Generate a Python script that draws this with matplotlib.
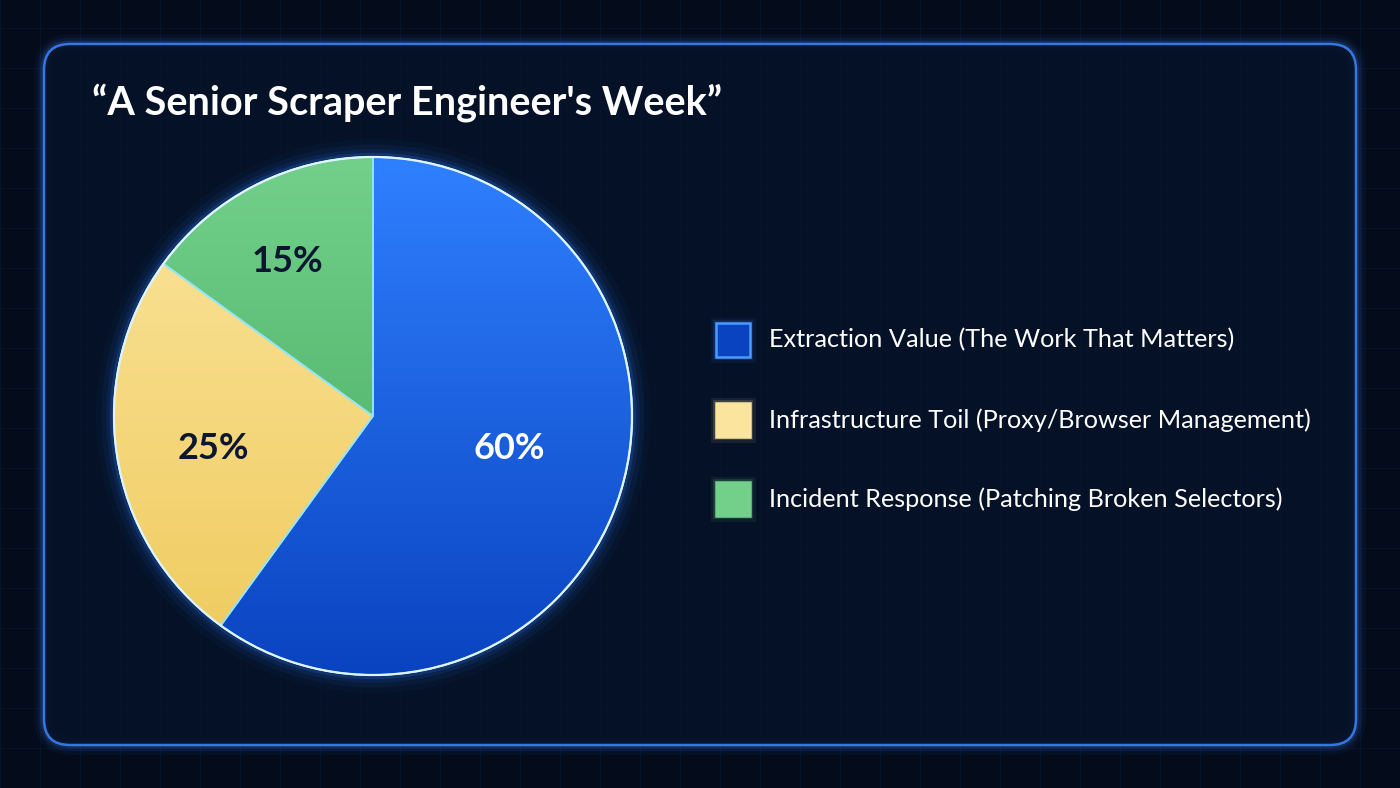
import numpy as np
import matplotlib
matplotlib.use('Agg')
import matplotlib.pyplot as plt
from matplotlib.patches import FancyBboxPatch, Rectangle, Circle, Wedge
from matplotlib.colors import LinearSegmentedColormap

#------------------------------------------------------------------------------
# DATA
#------------------------------------------------------------------------------
title = '\u201cA Senior Scraper Engineer\'s Week\u201d'
labels = ['Extraction Value (The Work That Matters)',
          'Infrastructure Toil (Proxy/Browser Management)',
          'Incident Response (Patching Broken Selectors)']
shares = [60, 25, 15]
colors_top = ['#2f80ff', '#fbe59e', '#72d08a']
colors_bot = ['#0a43c0', '#efca5c', '#42a65c']
pct_colors = ['white', '#0b1630', '#0b1630']

#------------------------------------------------------------------------------
# SETTINGS
#------------------------------------------------------------------------------
W, H = 1400, 788
bg = '#040b1b'
panel_fill = '#061329'
edge_blue = '#3f86ff'
font = ['Lato', 'DejaVu Sans']

fig = plt.figure(figsize=(W/100, H/100), dpi=100, facecolor=bg)
ax = fig.add_axes([0, 0, 1, 1])
ax.set_xlim(0, W)
ax.set_ylim(0, H)
ax.set_aspect('equal')
ax.axis('off')

# faint background grid
for gx in np.arange(0, W, 40):
    ax.axvline(gx, color='#1a3a6a', lw=0.5, alpha=0.25, zorder=0)
for gy in np.arange(0, H, 40):
    ax.axhline(gy, color='#1a3a6a', lw=0.5, alpha=0.25, zorder=0)

# panel with glowing border
px0, py0, px1, py1 = 44, 788-745, 1356, 788-44
for lw, a in [(14, 0.05), (9, 0.08), (5, 0.15)]:
    ax.add_patch(FancyBboxPatch((px0, py0), px1-px0, py1-py0,
                                boxstyle='round,pad=0,rounding_size=26',
                                fc='none', ec=edge_blue, lw=lw, alpha=a, zorder=1))
ax.add_patch(FancyBboxPatch((px0, py0), px1-px0, py1-py0,
                            boxstyle='round,pad=0,rounding_size=26',
                            fc=panel_fill, ec=edge_blue, lw=1.8, alpha=0.85, zorder=1))

# title
ax.text(92, 788-103, title, color='white', fontsize=28.5, fontweight='bold',
        family=font, ha='left', va='center', zorder=5)

#------------------------------------------------------------------------------
# PIE
#------------------------------------------------------------------------------
cx, cy, r = 373, 788-416, 259

# glow around pie
for lw, a in [(26, 0.04), (18, 0.06), (11, 0.10), (6, 0.18)]:
    ax.add_patch(Circle((cx, cy), r, fc='none', ec='#2f7dff', lw=lw, alpha=a, zorder=2))

wedges, texts, autotexts = ax.pie(shares, startangle=90, counterclock=False,
                                  center=(cx, cy), radius=r, colors=colors_top,
                                  autopct='%d%%', pctdistance=0.6,
                                  wedgeprops=dict(ec='#8fe6ff', lw=1.2),
                                  textprops=dict(fontsize=26, fontweight='bold', family=font))
ax.set_xlim(0, W)
ax.set_ylim(0, H)

# label placement inside the wedges (pixel positions of the label centres)
pct_pos = [(509, 448), (213, 448), (287, 261)]
for i, w in enumerate(wedges):
    w.set_zorder(3)
    cmap = LinearSegmentedColormap.from_list('g%d' % i, [colors_bot[i], colors_top[i]])
    grad = np.linspace(0, 1, 256).reshape(-1, 1)
    im = ax.imshow(grad, cmap=cmap, origin='lower', aspect='auto',
                   extent=(cx-r, cx+r, cy-r, cy+r), zorder=3.1)
    im.set_clip_path(w)
    autotexts[i].set_color(pct_colors[i])
    autotexts[i].set_position((pct_pos[i][0], H - pct_pos[i][1]))
    autotexts[i].set_zorder(6)

# boundary lines and rim on top of the gradients
for w in wedges:
    ax.add_patch(Wedge((cx, cy), r, w.theta1, w.theta2,
                       fc='none', ec='#8fe6ff', lw=1.2, zorder=4))
ax.add_patch(Circle((cx, cy), r, fc='none', ec='#dff4ff', lw=1.6, zorder=4.5))

#------------------------------------------------------------------------------
# LEGEND
#------------------------------------------------------------------------------
leg_y = [340, 420, 499]
sq = 34
for i in range(len(labels)):
    yy = H - leg_y[i]
    for lw, a in [(8, 0.08), (4, 0.18)]:
        ax.add_patch(Rectangle((716, yy-sq/2), sq, sq, fc='none',
                               ec=colors_top[i], lw=lw, alpha=a, zorder=4))
    ax.add_patch(Rectangle((716, yy-sq/2), sq, sq, fc=colors_bot[i] if i == 0 else colors_top[i],
                           ec=colors_top[i] if i else '#4a9bff', lw=1.8, zorder=5))
    ax.text(769, yy, labels[i], color='white', fontsize=18.2, family=font,
            ha='left', va='center', zorder=5)

fig.savefig('out.png', dpi=100, facecolor=bg)
plt.close(fig)
